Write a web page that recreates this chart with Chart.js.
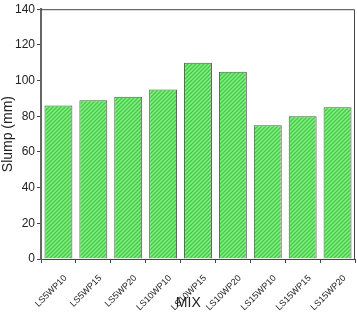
<!DOCTYPE html>
<html lang="en">
<head>
    <meta charset="UTF-8">
    <title>Slump</title>
    <script src="https://cdn.jsdelivr.net/npm/chart.js"></script>
    <style>
        body { margin: 0; background: #fff; }
        #wrap { width: 357px; height: 313px; }
    </style>
</head>
<body>
    <div id="wrap"><canvas id="myChart" width="357" height="313"></canvas></div>
<script>
    var mixes = ['LS5WP10', 'LS5WP15', 'LS5WP20', 'LS10WP10', 'LS10WP15', 'LS10WP20', 'LS15WP10', 'LS15WP15', 'LS15WP20'];
    var slump = [86, 89, 91, 95, 110, 105, 75, 80, 85];
    var yTicks = [0, 20, 40, 60, 80, 100, 120, 140];

    // hatched green fill
    function hatch(){
        var c = document.createElement('canvas');
        c.width = 4; c.height = 4;
        var g = c.getContext('2d');
        g.fillStyle = '#80f080';
        g.fillRect(0, 0, 4, 4);
        g.strokeStyle = '#48c848';
        g.lineWidth = 1.3;
        g.beginPath();
        g.moveTo(0, 4); g.lineTo(4, 0);
        g.moveTo(-1, 1); g.lineTo(1, -1);
        g.moveTo(3, 5); g.lineTo(5, 3);
        g.stroke();
        return g.createPattern(c, 'repeat');
    }

    var frame = {
        id: 'frame',
        afterDatasetsDraw(chart){
            var a = chart.chartArea, ctx = chart.ctx;
            ctx.save();
            ctx.strokeStyle = '#444';
            ctx.lineWidth = 1;
            ctx.beginPath();
            ctx.moveTo(a.left, a.top + 0.5);
            ctx.lineTo(a.right - 0.5, a.top + 0.5);
            ctx.lineTo(a.right - 0.5, a.bottom);
            ctx.stroke();
            ctx.restore();
        }
    };

    Chart.defaults.font.family = 'Arial, "Liberation Sans", sans-serif';
    Chart.defaults.color = '#222';

    new Chart(document.querySelector('#myChart'), {
        type: 'bar',
        data: {
            labels: mixes,
            datasets: [{
                data: slump,
                backgroundColor: hatch(),
                borderColor: '#555',
                borderWidth: 1,
                barPercentage: 0.8,
                categoryPercentage: 1
            }]
        },
        options: {
            responsive: false,
            animation: false,
            layout: { padding: { top: 5, right: 2, left: 0, bottom: 0 } },
            plugins: { legend: { display: false }, tooltip: { enabled: false } },
            scales: {
                x: {
                    grid: { drawOnChartArea: false, tickLength: 4, color: '#444' },
                    border: { color: '#444', width: 1 },
                    ticks: { minRotation: 45, maxRotation: 45, font: { size: 9 }, padding: 10, labelOffset: 7 },
                    // trailing spaces nudge the title left like the original
                    title: { display: true, text: 'MIX     ', font: { size: 14 }, padding: { top: 0, bottom: 1 } },
                    afterFit(s){ s.height = 54; }
                },
                y: {
                    min: 0, max: 140,
                    afterBuildTicks(s){ s.ticks = yTicks.map(v => ({ value: v })); },
                    grid: { drawOnChartArea: false, tickLength: 4, color: '#444' },
                    border: { color: '#666', width: 2 },
                    ticks: { font: { size: 12 }, padding: 2 },
                    title: { display: true, text: 'Slump (mm)', font: { size: 14 }, padding: 0 },
                    afterFit(s){ s.width = 41; }
                }
            }
        },
        plugins: [frame]
    });
</script>
</body>
</html>
